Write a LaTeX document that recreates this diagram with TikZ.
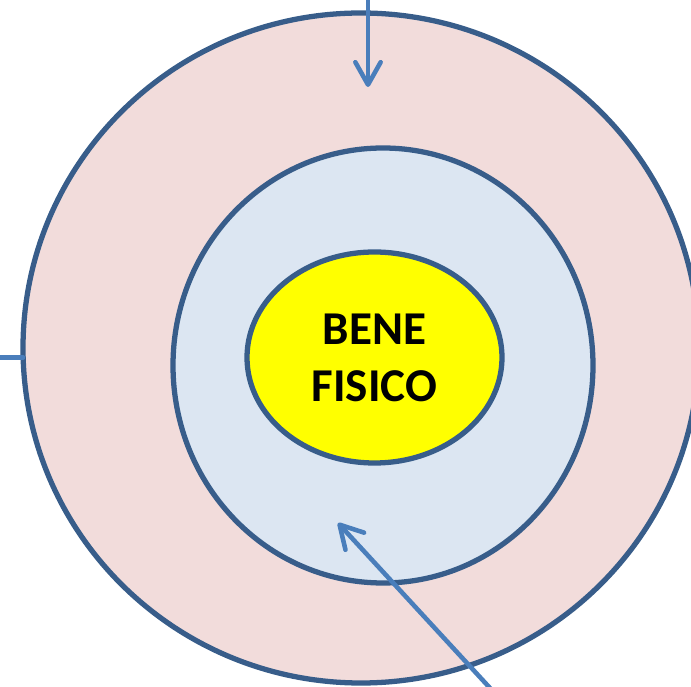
\documentclass[tikz,border=0pt]{standalone}
\usepackage{fontspec}
\setmainfont{Carlito}
\usepackage{tikz}
\usetikzlibrary{shapes.geometric, arrows.meta}
\definecolor{ringblue}{HTML}{385D8A}
\definecolor{arrblue}{HTML}{4A7EBB}
\definecolor{rosa}{HTML}{F2DCDB}
\definecolor{celeste}{HTML}{DCE6F2}
\definecolor{giallo}{HTML}{FFFF00}
\tikzstyle{ring}=[ellipse, draw=ringblue, line width=7.5pt, inner sep=0pt]
\tikzstyle{arr}=[draw=arrblue, line width=6.5pt, line cap=round,
  -{Straight Barb[length=32pt, width=36pt, round]}]

\begin{document}
\begin{tikzpicture}[scale=.5]
    \path[use as bounding box, clip] (0,0) rectangle (69.1,68.7);
    \node[ring, fill=rosa, minimum width=33.8cm, minimum height=33.5cm] (O) at (36.1,33.9) {};
    \node[ring, fill=celeste, minimum width=21cm, minimum height=21.75cm] (I) at (38.3,32.15) {};
    \node[ring, fill=giallo, minimum width=12.75cm, minimum height=10.55cm,
      align=center, font=\bfseries\fontsize{67}{81}\selectfont] (C) at (37.45,32.95) {BENE\\FISICO};
    \coordinate (t1) at (36.8,69.5);
    \coordinate (h1) at (36.8,60.0);
    \coordinate (t2) at (50.1,-1.3);
    \coordinate (h2) at (33.8,16.4);
    \coordinate (t3) at (2.3,32.95);
    \coordinate (h3) at (-3.2,32.95);
    \foreach \from/\to in {t1/h1, t2/h2, t3/h3}
      \draw[arr] (\from) -- (\to);
\end{tikzpicture}
\end{document}
